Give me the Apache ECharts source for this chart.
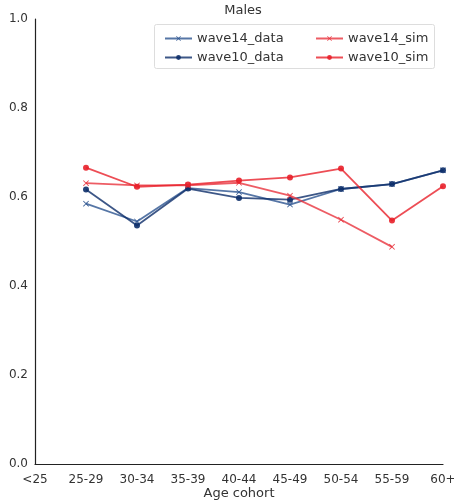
<!DOCTYPE html>
<html>
<head>
<meta charset="utf-8">
<script src="https://cdn.jsdelivr.net/npm/echarts@6/dist/echarts.min.js"></script>
<style>
  html, body { margin: 0; padding: 0; background: #fff; }
  #chart { width: 454px; height: 502px; }
</style>
</head>
<body>
<div id="chart"></div>
<script>
// Age cohorts along the x axis
const cohorts = ['<25', '25-29', '30-34', '35-39', '40-44', '45-49', '50-54', '55-59', '60+'];
const yTicks = [0, 0.2, 0.4, 0.6, 0.8, 1.0];

// Share by cohort, observed and simulated
const wave14Data = [null, 0.585, 0.545, 0.620, 0.611, 0.583, 0.618, 0.629, 0.660];
const wave10Data = [null, 0.617, 0.536, 0.619, 0.598, 0.594, 0.618, 0.629, 0.660];
const wave14Sim  = [null, 0.631, 0.626, 0.626, 0.632, 0.603, 0.549, 0.488, null];
const wave10Sim  = [null, 0.666, 0.623, 0.628, 0.637, 0.644, 0.664, 0.547, 0.624];

const FONT = 'DejaVu Sans';
const crossMark = 'path://M0,1L1,0L5,4L9,0L10,1L6,5L10,9L9,10L5,6L1,10L0,9L4,5Z';

function makeSeries(name, data, color, symbol, size) {
  return {
    name: name,
    type: 'line',
    data: data,
    symbol: symbol,
    symbolSize: size,
    showSymbol: true,
    connectNulls: false,
    lineStyle: { color: color, width: 1.8, opacity: 0.8 },
    itemStyle: { color: color, opacity: 0.9 },
    emphasis: { disabled: true },
    animation: false
  };
}

const chart = echarts.init(document.getElementById('chart'), null, { renderer: 'canvas' });

const legendText = { fontFamily: FONT, fontSize: 13, color: '#333' };
const legendCommon = {
  orient: 'vertical', top: 27, itemGap: 6, itemWidth: 27, itemHeight: 6,
  textStyle: legendText, z: 5, selectedMode: false
};

chart.setOption({
  backgroundColor: '#fff',
  animation: false,
  title: {
    text: 'Males',
    left: 238,
    top: -1,
    textAlign: 'center',
    textStyle: { fontFamily: FONT, fontSize: 13, fontWeight: 'normal', color: '#333' }
  },
  graphic: [{
    type: 'rect',
    shape: { x: 154.5, y: 24.5, width: 280, height: 44, r: 2 },
    style: { fill: '#fff', stroke: '#ddd', lineWidth: 1 },
    z: 1
  }],
  legend: [
    Object.assign({ left: 159, data: ['wave14_data', 'wave10_data'] }, legendCommon),
    Object.assign({ left: 310, data: ['wave14_sim', 'wave10_sim'] }, legendCommon)
  ],
  grid: { left: 35, right: 11, top: 19, bottom: 38, containLabel: false, outerBoundsMode: 'none' },
  xAxis: {
    type: 'category',
    data: cohorts,
    boundaryGap: false,
    name: 'Age cohort',
    nameLocation: 'middle',
    nameGap: 23,
    nameMoveOverlap: false,
    nameTextStyle: { fontFamily: FONT, fontSize: 13, color: '#333' },
    axisLine: { lineStyle: { color: '#222', width: 1.2 } },
    axisTick: { show: false },
    axisLabel: { fontFamily: FONT, fontSize: 12, color: '#333', margin: 10, interval: 0 },
    splitLine: { show: false }
  },
  yAxis: {
    type: 'value',
    min: yTicks[0],
    max: yTicks[yTicks.length - 1],
    interval: 0.2,
    axisLine: { show: true, lineStyle: { color: '#222', width: 1.2 } },
    axisTick: { show: false },
    axisLabel: {
      fontFamily: FONT, fontSize: 12, color: '#333', margin: 7,
      formatter: v => v.toFixed(1)
    },
    splitLine: { show: false }
  },
  series: [
    makeSeries('wave14_data', wave14Data, '#2c5490', crossMark, 6),
    makeSeries('wave10_data', wave10Data, '#0c2d69', 'circle', 6),
    makeSeries('wave14_sim', wave14Sim, '#e8333d', crossMark, 6),
    makeSeries('wave10_sim', wave10Sim, '#e8202a', 'circle', 6)
  ]
});
</script>
</body>
</html>
